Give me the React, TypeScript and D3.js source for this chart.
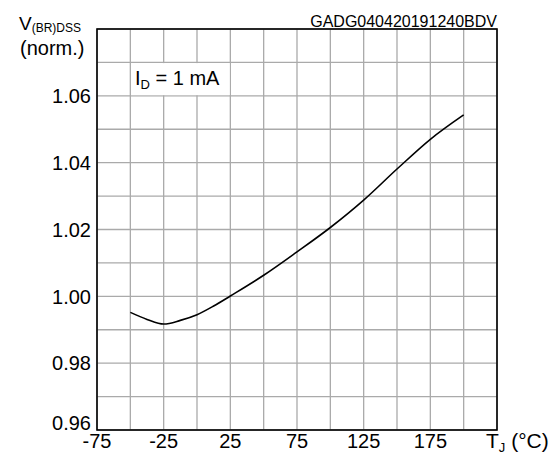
import React from 'react';
import * as d3 from 'd3';

// junction temperature (°C) and normalised breakdown voltage
const tempC = [-50, -37.5, -25, -12.5, 0, 12.5, 25, 50, 75, 100, 125, 150, 175, 200];
const vbrNorm = [0.9952, 0.9931, 0.9917, 0.9928, 0.9945, 0.9971, 1.0001, 1.0063, 1.0133, 1.0206, 1.0288, 1.0381, 1.047, 1.0543];

const xTickLabels = [-75, -25, 25, 75, 125, 175];
const yTickLabels = [0.96, 0.98, 1.0, 1.02, 1.04, 1.06];

const W = 560;
const H = 454;
const margin = { top: 29, right: 63, bottom: 24, left: 97 };
const font = 'Liberation Sans, Arial, sans-serif';

export default function App() {
  const x = d3.scaleLinear().domain([-75, 225]).range([margin.left, W - margin.right]);
  const y = d3.scaleLinear().domain([0.96, 1.08]).range([H - margin.bottom, margin.top]);

  const xGrid = d3.range(-75, 226, 25);
  const yGrid = d3.range(0, 13).map((i) => 0.96 + i * 0.01);

  const line = d3
    .line<number>()
    .x((_, i) => x(tempC[i]))
    .y((d) => y(d))
    .curve(d3.curveMonotoneX);

  const [x0, x1] = x.range();
  const [y0, y1] = y.range();

  return (
    <svg width={W} height={H} style={{ position: 'absolute', left: 0, top: 0, background: '#fff' }} fontFamily={font}>
      {/* grid */}
      {xGrid.map((t) => (
        <line key={'gx' + t} x1={x(t)} x2={x(t)} y1={y1} y2={y0} stroke="#aaa" strokeWidth={1.3} />
      ))}
      {yGrid.map((v, i) => (
        <line key={'gy' + i} x1={x0} x2={x1} y1={y(v)} y2={y(v)} stroke="#aaa" strokeWidth={1.3} />
      ))}

      {/* label box over the grid */}
      <rect x={x(-50) + 0.7} y={y(1.07) + 0.7} width={x(25) - x(-50) - 1.4} height={y(1.06) - y(1.07) - 1.4} fill="#fff" />
      <text x={135} y={85} fontSize={20} fill="#000">
        I<tspan fontSize={13} dy={4}>D</tspan>
        <tspan dy={-4}> = 1 mA</tspan>
      </text>

      {/* curve */}
      <path d={line(vbrNorm) || ''} fill="none" stroke="#000" strokeWidth={1.6} />

      {/* frame */}
      <rect x={x0} y={y1} width={x1 - x0} height={y0 - y1} fill="none" stroke="#000" strokeWidth={1.6} />

      {/* y ticks; the lowest one sits on the axis line */}
      {yTickLabels.map((v, i) => (
        <text key={'yt' + v} x={x0 - 6} y={i === 0 ? y(v) - 0.5 : y(v)} dy={i === 0 ? 0 : '0.36em'} textAnchor="end" fontSize={20} fill="#000">
          {d3.format('.2f')(v)}
        </text>
      ))}

      {/* x ticks */}
      {xTickLabels.map((t) => (
        <text key={'xt' + t} x={x(t)} y={448} textAnchor="middle" fontSize={20} fill="#000">
          {t}
        </text>
      ))}

      {/* axis titles */}
      <text x={19} y={30} fontSize={19} fill="#000">
        V<tspan fontSize={12} dy={2}>(BR)DSS</tspan>
      </text>
      <text x={20} y={55} fontSize={20} fill="#000">
        (norm.)
      </text>
      <text x={486} y={448} fontSize={21} fill="#000">
        T<tspan fontSize={13} dy={4}>J</tspan>
        <tspan dy={-4}> (°C)</tspan>
      </text>

      <text x={x1} y={27} textAnchor="end" fontSize={16} fill="#000">
        GADG040420191240BDV
      </text>
    </svg>
  );
}
